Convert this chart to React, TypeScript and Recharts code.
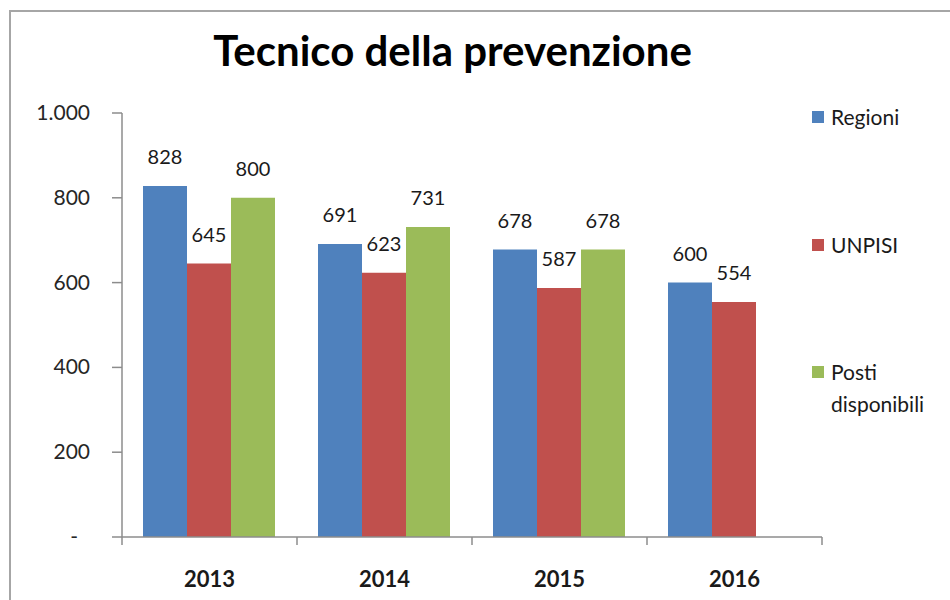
import React from "react";
import { BarChart, Bar, XAxis, YAxis, LabelList } from "recharts";

const years = ["2013", "2014", "2015", "2016"];
const regioni = [828, 691, 678, 600];
const unpisi = [645, 623, 587, 554];
const posti = [800, 731, 678, null];
const yTicks = [0, 200, 400, 600, 800, 1000];

const data = years.map((year, i) => ({
  year,
  regioni: regioni[i],
  unpisi: unpisi[i],
  posti: posti[i],
}));

const W = 950;
const H = 600;
const X_H = 40;
const M = { top: 113, right: 128, bottom: 63 - X_H, left: 62 };
const Y_W = 60;
const PLOT_W = W - M.left - Y_W - M.right;
const BAND = PLOT_W / years.length;
const FONT = "Lato, 'Open Sans', sans-serif";

const fmt = (v: number) => (v === 0 ? "-" : v >= 1000 ? v.toLocaleString("it-IT") : String(v));

const YTick = ({ x, y, payload }: any) => (
  <text
    x={payload.value === 0 ? x - 12 : x}
    y={y}
    dy={7}
    textAnchor="end"
    fontSize={21}
    fill="#262626"
    fontFamily={FONT}
  >
    {fmt(payload.value)}
  </text>
);

const XTick = ({ x, y, payload, index }: any) => (
  <g>
    <line x1={x - BAND / 2} x2={x - BAND / 2} y1={y - 8} y2={y} stroke="#8c8c8c" strokeWidth={1.5} />
    {index === years.length - 1 && (
      <line x1={x + BAND / 2} x2={x + BAND / 2} y1={y - 8} y2={y} stroke="#8c8c8c" strokeWidth={1.5} />
    )}
    <text x={x} y={y + 42} textAnchor="middle" fontSize={22} fontWeight="bold" fill="#1a1a1a" fontFamily={FONT}>
      {payload.value}
    </text>
  </g>
);

const legendItems = [
  { name: "Regioni", color: "#4F81BD", top: 101 },
  { name: "UNPISI", color: "#C0504D", top: 229 },
  { name: "Posti disponibili", color: "#9BBB59", top: 356 },
];

export default function App() {
  return (
    <div style={{ position: "absolute", left: 0, top: 0, width: W, height: H, background: "#fff", overflow: "hidden", fontFamily: FONT }}>
      <div style={{ position: "absolute", left: 9, top: 10, width: 1000, height: 700, border: "2px solid #a6a6a6" }} />
      <div style={{ position: "absolute", left: 0, width: 905, top: 25, textAlign: "center", fontSize: 42, fontWeight: "bold", color: "#000" }}>
        Tecnico della prevenzione
      </div>
      <div style={{ position: "absolute", left: 0, top: 0 }}>
        <BarChart width={W} height={H} data={data} margin={M} barCategoryGap="12%" barGap={0}>
          <YAxis
            domain={[0, 1000]}
            ticks={yTicks}
            width={Y_W}
            tickSize={10}
            tick={<YTick />}
            tickMargin={22}
            axisLine={{ stroke: "#8c8c8c", strokeWidth: 1.5 }}
            tickLine={{ stroke: "#8c8c8c", strokeWidth: 1.5 }}
          />
          <XAxis
            dataKey="year"
            tickLine={false}
            tick={<XTick />}
            axisLine={{ stroke: "#8c8c8c", strokeWidth: 1.5 }}
            interval={0}
            height={X_H}
          />
          {[
            { key: "regioni", color: "#4F81BD" },
            { key: "unpisi", color: "#C0504D" },
            { key: "posti", color: "#9BBB59" },
          ].map((s) => (
            <Bar key={s.key} dataKey={s.key} fill={s.color} isAnimationActive={false}>
              <LabelList dataKey={s.key} position="top" offset={22} fontSize={20} fill="#1a1a1a" fontFamily={FONT} />
            </Bar>
          ))}
        </BarChart>
      </div>
      {legendItems.map((l) => (
        <div key={l.name} style={{ position: "absolute", left: 812, top: l.top, width: 135, display: "flex", alignItems: "flex-start", fontSize: 21, color: "#1a1a1a", lineHeight: "32px" }}>
          <span style={{ width: 12, height: 12, background: l.color, marginTop: 10, marginRight: 7, flex: "none" }} />
          <span>{l.name}</span>
        </div>
      ))}
    </div>
  );
}
